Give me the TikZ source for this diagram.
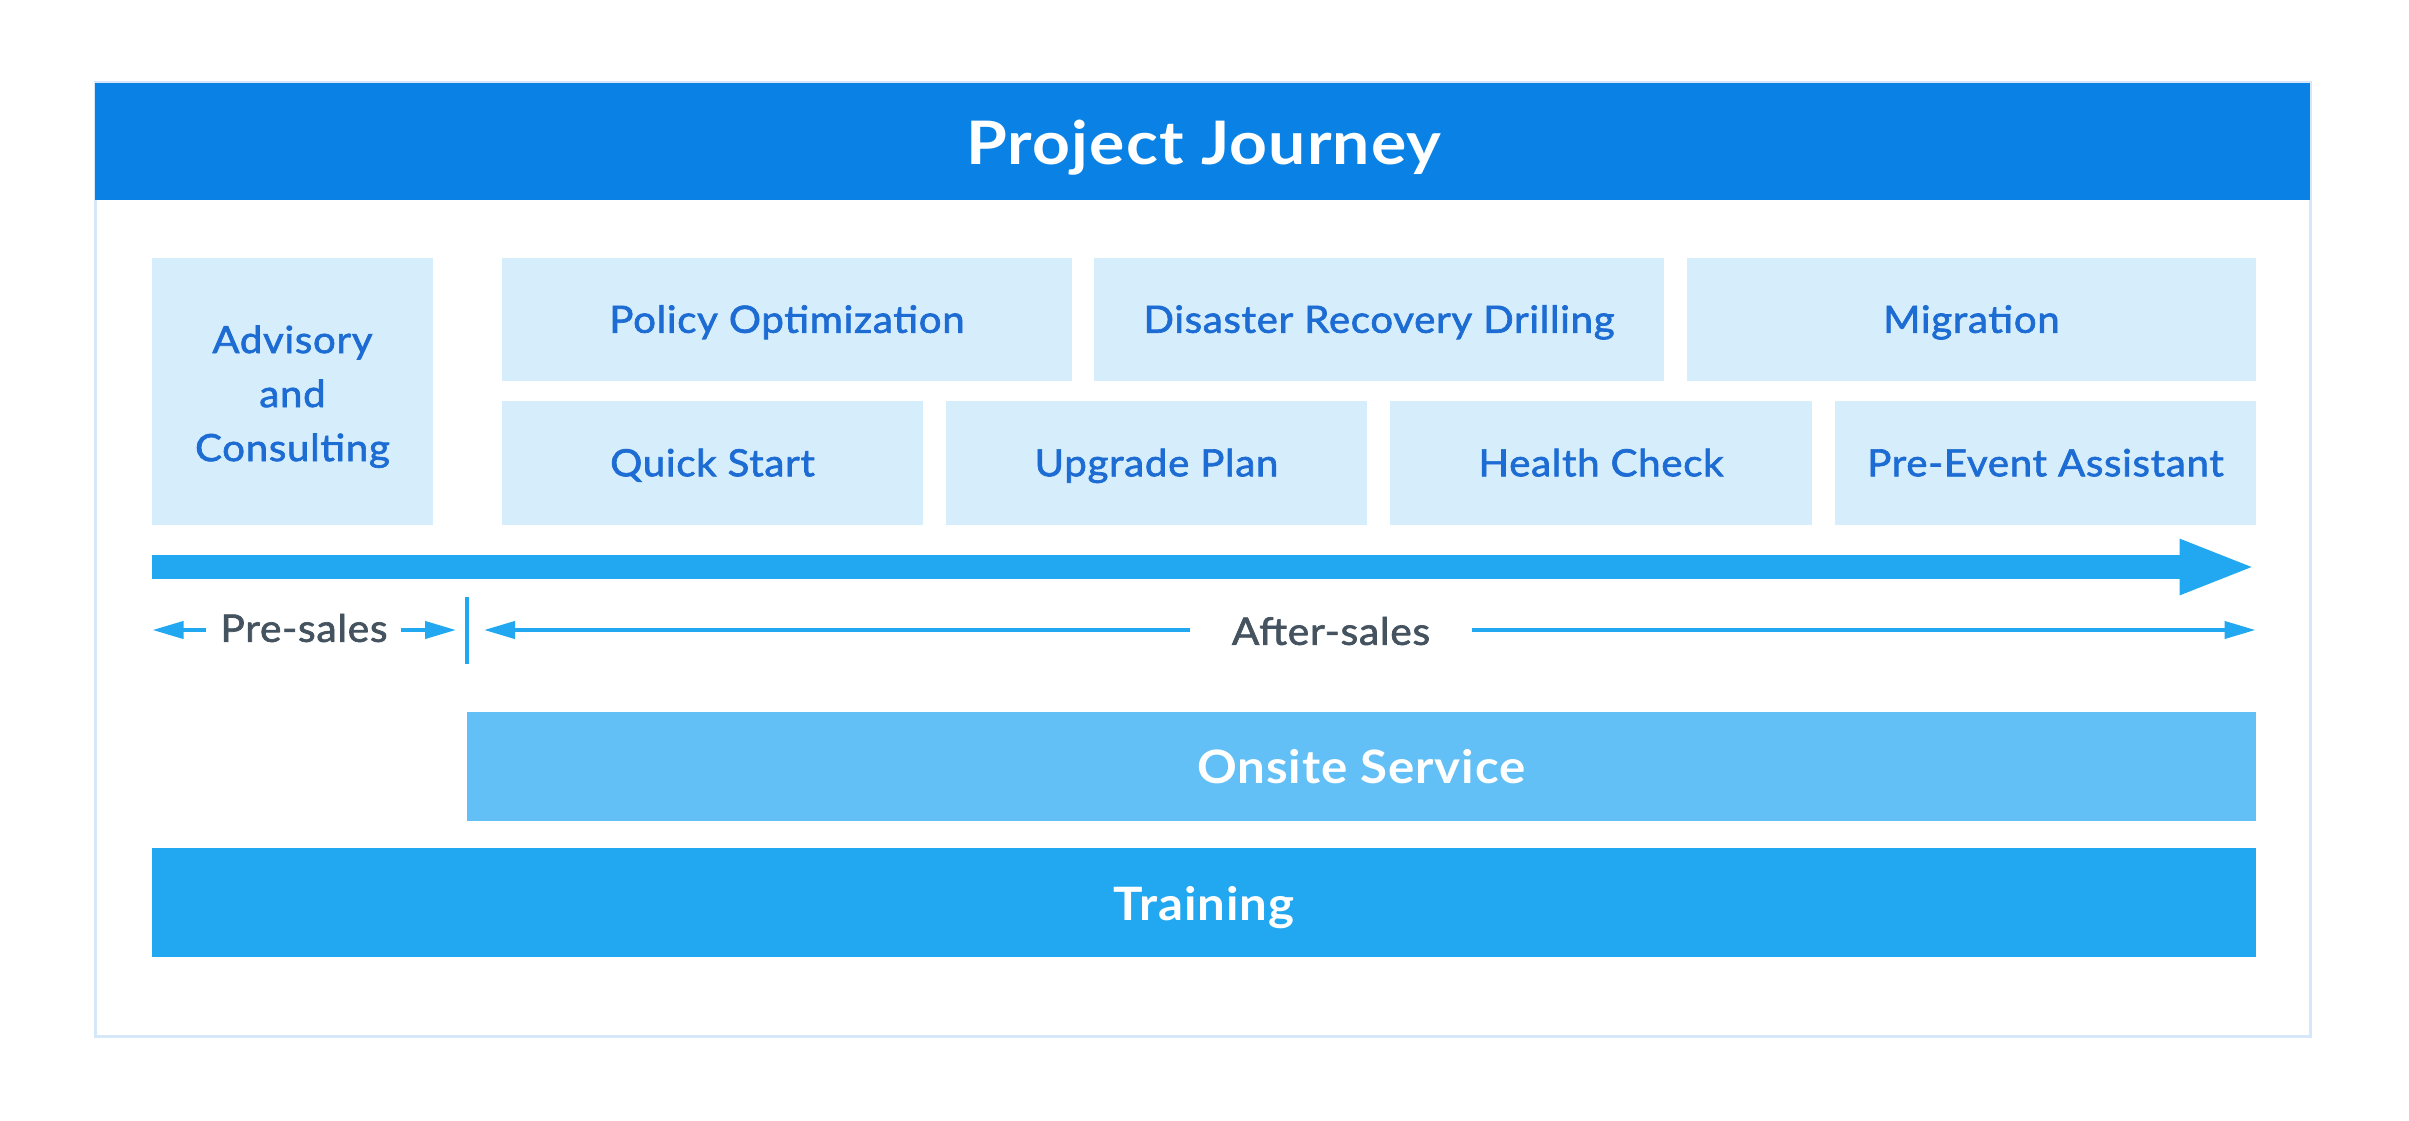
\documentclass[tikz,border=0pt]{standalone}
\usepackage{fontspec}
\setmainfont{Lato}
\newfontfamily\semib[FakeBold=1.8,FakeStretch=1.07,LetterSpace=2]{Lato}
\newfontfamily\widef[FakeStretch=1.07,LetterSpace=2]{Lato}
\newfontfamily\titlef[FakeStretch=1.1,LetterSpace=2]{Lato}
\usetikzlibrary{arrows.meta}
\definecolor{headc}{HTML}{0A82E5}
\definecolor{boxc}{HTML}{D6EDFC}
\definecolor{boxtxt}{HTML}{1C6CD3}
\definecolor{arrc}{HTML}{21A8F1}
\definecolor{onsitec}{HTML}{62C0F6}
\definecolor{grayt}{HTML}{44535F}
\definecolor{framec}{HTML}{D6E7FA}
\tikzset{
  svcbox/.style={fill=boxc, inner sep=0pt, text=boxtxt, align=center,
    font=\semib\fontsize{37.5}{54}\selectfont},
  onebox/.style={svcbox, text height=36pt, text depth=9.5pt},
  bandbox/.style={inner sep=0pt, text=white, font=\widef\bfseries\fontsize{46}{54}\selectfont},
  phase/.style={inner sep=0pt, text=grayt, font=\semib\fontsize{38}{46}\selectfont},
  thinarrow/.style={draw=arrc, line width=4pt, -{Triangle[length=31pt,width=17pt]}},
  bigarrow/.style={draw=arrc, line width=24pt, -{Triangle[length=77pt,width=50pt]}}
}
\begin{document}
\begin{tikzpicture}[x=1pt,y=-1pt]
\useasboundingbox (0,0) rectangle (2409,1121);
% frame and header
\draw[framec, line width=3pt, fill=white] (95,83) rectangle (2310,1036);
\fill[headc] (95,83) rectangle (2310,200);
\node[inner sep=0pt, text=white, font=\titlef\bfseries\fontsize{60}{70}\selectfont] (title) at (1204,148) {Project Journey};
% service boxes
\node[svcbox, minimum width=281pt, minimum height=267pt] (adv) at (292.5,391.5) {\rule{0pt}{38pt}Advisory\\and\\Consulting};
\node[onebox, minimum width=570pt, minimum height=123pt] (pol) at (787,319.5) {Policy Optimization};
\node[onebox, minimum width=570pt, minimum height=123pt] (dis) at (1379,319.5) {Disaster Recovery Drilling};
\node[onebox, minimum width=569pt, minimum height=123pt] (mig) at (1971.5,319.5) {Migration};
\node[onebox, minimum width=421pt, minimum height=124pt] (qs) at (712.5,463) {Quick Start};
\node[onebox, minimum width=421pt, minimum height=124pt] (up) at (1156.5,463) {Upgrade Plan};
\node[onebox, minimum width=422pt, minimum height=124pt] (hc) at (1601,463) {Health Check};
\node[onebox, minimum width=421pt, minimum height=124pt] (pe) at (2045.5,463) {Pre-Event Assistant};
% timeline arrow
\coordinate (tlS) at (152,567);
\coordinate (tlE) at (2256.5,567);
\draw[bigarrow] (tlS) -- (tlE);
% phases
\node[phase] (pre) at (304,628) {Pre-sales};
\node[phase] (aft) at (1331,631) {After-sales};
\coordinate (p1a) at (206,630);
\coordinate (p1b) at (152.5,630);
\coordinate (p2a) at (400.5,630);
\coordinate (p2b) at (456,630);
\coordinate (t1) at (467,597);
\coordinate (t2) at (467,664);
\coordinate (a1a) at (1190,630);
\coordinate (a1b) at (484,630);
\coordinate (a2a) at (1472,630);
\coordinate (a2b) at (2255.5,630);
\draw[thinarrow] (p1a) -- (p1b);
\draw[thinarrow] (p2a) -- (p2b);
\draw[arrc, line width=4pt] (t1) -- (t2);
\draw[thinarrow] (a1a) -- (a1b);
\draw[thinarrow] (a2a) -- (a2b);
% bands
\node[bandbox, fill=onsitec, minimum width=1789pt, minimum height=109pt] (ons) at (1361.5,766.5) {Onsite Service};
\node[bandbox, fill=arrc, minimum width=2104pt, minimum height=109pt, text height=45pt, text depth=9pt] (trn) at (1204,902.5) {Training};
\end{tikzpicture}
\end{document}
